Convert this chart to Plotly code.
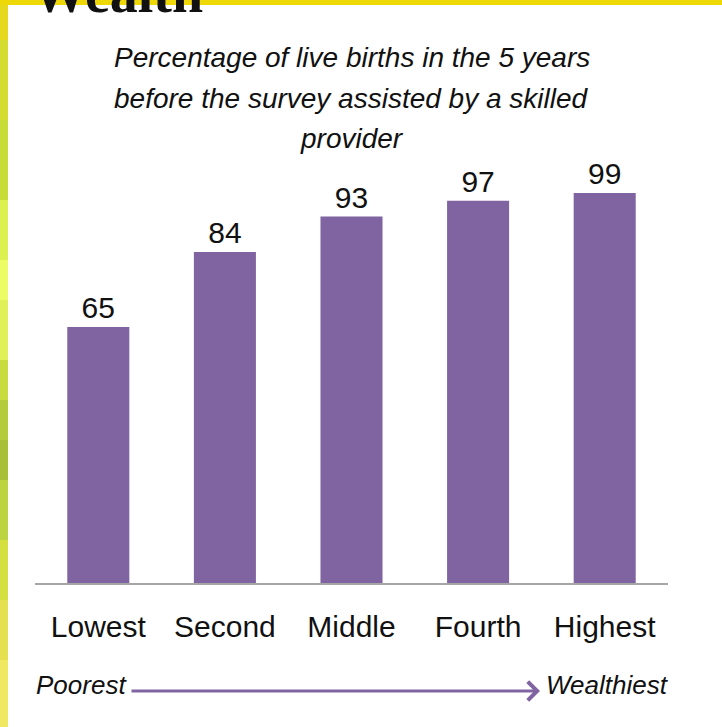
import plotly.graph_objects as go

# Skilled birth attendance by wealth quintile
QUINTILES = ["Lowest", "Second", "Middle", "Fourth", "Highest"]
PCT_ASSISTED = [65, 84, 93, 97, 99]
TITLE_LINES = [
    "Percentage of live births in the 5 years",
    "before the survey assisted by a skilled",
    "provider",
]

BAR_COLOR = "#8064A2"
SANS = "Liberation Sans, Arial, sans-serif"

# Plot area in pixels (used to place decorations in paper coords)
W, H = 722, 727
L, R, T, B = 35, 668, 189, 583


def px_x(p):
    return (p - L) / (R - L)


def px_y(p):
    return (B - p) / (B - T)


fig = go.Figure()

fig.add_trace(
    go.Bar(
        x=QUINTILES,
        y=PCT_ASSISTED,
        marker_color=BAR_COLOR,
        marker_line_width=0,
        text=PCT_ASSISTED,
        textposition="outside",
        textfont=dict(family=SANS, size=30, color="#111111"),
        cliponaxis=False,
        hoverinfo="skip",
    )
)

# Slide frame: yellow top band and textured left strip
strip = [
    (0, 40, "#e6d81c"), (40, 120, "#d4dc30"), (120, 200, "#c8dc38"),
    (200, 260, "#dcf050"), (260, 300, "#ecfc64"), (300, 360, "#e0f058"),
    (360, 400, "#c8dc40"), (400, 440, "#b4cc3c"), (440, 480, "#a8c038"),
    (480, 540, "#bcd440"), (540, 600, "#d4e040"), (600, 660, "#e4e050"),
    (660, 727, "#f0e860"),
]
shapes = []
for y0, y1, col in strip:
    shapes.append(dict(type="rect", xref="paper", yref="paper",
                       x0=px_x(-1), x1=px_x(8), y0=px_y(y1 + 1), y1=px_y(y0),
                       fillcolor=col, line_width=0, layer="below"))
shapes.append(dict(type="rect", xref="paper", yref="paper",
                   x0=px_x(-1), x1=px_x(W + 1), y0=px_y(5), y1=px_y(-2),
                   fillcolor="#efd808", line_width=0, layer="below"))

annotations = [
    # cut-off slide heading
    dict(text="<b>Wealth</b>", xref="paper", yref="paper",
         x=px_x(30), y=px_y(26), xanchor="left", yanchor="bottom",
         showarrow=False, font=dict(family="Liberation Serif, serif", size=56, color="#111111")),
    # poorest -> wealthiest
    dict(text="<i>Poorest</i>", xref="paper", yref="paper",
         x=px_x(34), y=px_y(685), xanchor="left", yanchor="middle",
         showarrow=False, font=dict(family=SANS, size=26, color="#111111")),
    dict(text="<i>Wealthiest</i>", xref="paper", yref="paper",
         x=px_x(544), y=px_y(685), xanchor="left", yanchor="middle",
         showarrow=False, font=dict(family=SANS, size=26, color="#111111")),
    dict(text="", xref="paper", yref="paper",
         x=px_x(540), y=px_y(691), ax=-410, ay=0,
         showarrow=True, arrowhead=4, arrowsize=1.2, arrowwidth=3, arrowcolor=BAR_COLOR),
]

# chart title, one annotation per line for the wider line spacing
for i, line in enumerate(TITLE_LINES):
    annotations.append(dict(
        text=f"<i>{line}</i>", xref="paper", yref="paper",
        x=0.5, y=px_y(57 + 41 * i), xanchor="center", yanchor="middle",
        showarrow=False, font=dict(family=SANS, size=28, color="#111111")))

fig.update_xaxes(
    showgrid=False,
    showline=True,
    linecolor="#a6a6a6",
    linewidth=2,
    ticks="outside",
    ticklen=16,
    tickcolor="rgba(0,0,0,0)",
    tickfont=dict(family=SANS, size=30, color="#111111"),
    range=[-0.5, 4.5],
)
fig.update_yaxes(visible=False, range=[0, 100])

fig.update_layout(
    width=W,
    height=H,
    margin=dict(l=L, r=W - R, t=T, b=H - B, pad=0),
    bargap=0.51,
    paper_bgcolor="white",
    plot_bgcolor="white",
    showlegend=False,
    shapes=shapes,
    annotations=annotations,
)

# drop the page's default body margin so the figure sits at the window corner
fig.write_html(
    "out.html",
    config={"displayModeBar": False},
    post_script="document.body.style.margin='0';",
)
